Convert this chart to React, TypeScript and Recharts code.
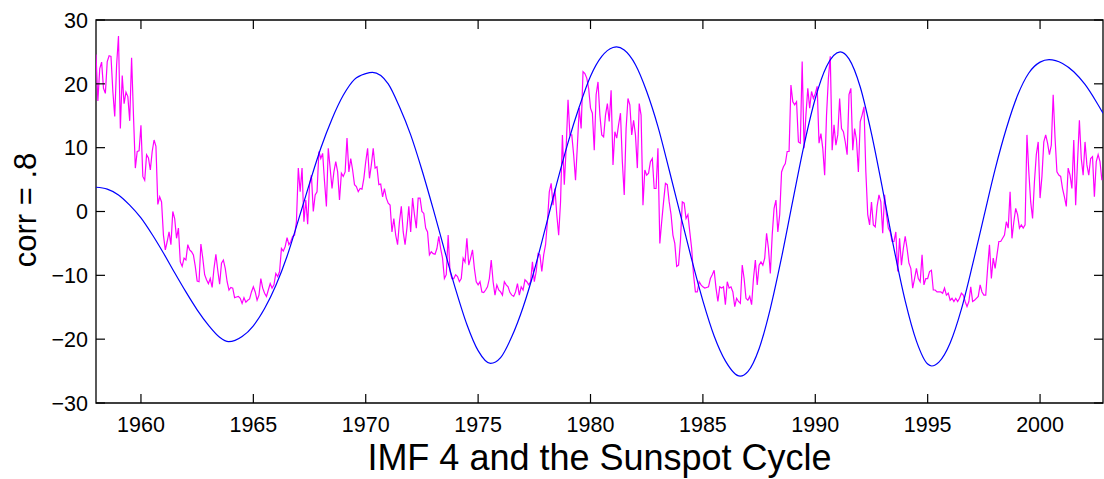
import React from "react";
import { LineChart, Line, XAxis, YAxis, ReferenceArea } from "recharts";

const START_YEAR = 1958;
const END_YEAR = 2002.8;

const yearTicks = [1960, 1965, 1970, 1975, 1980, 1985, 1990, 1995, 2000];
const corrTicks = [-30, -20, -10, 0, 10, 20, 30];

// IMF 4 (blue)
const imfYears = [
  1958.0, 1958.5, 1959.0, 1959.5, 1960.0, 1960.5, 1961.0, 1961.5, 1962.0, 1962.5,
  1963.0, 1963.5, 1963.9, 1964.5, 1965.0, 1965.5, 1966.0, 1966.5, 1967.0, 1967.5,
  1968.0, 1968.5, 1969.0, 1969.5, 1970.0, 1970.3, 1971.0, 1971.5, 1972.0, 1972.5,
  1973.0, 1973.5, 1974.0, 1974.5, 1975.0, 1975.55, 1976.0, 1976.5, 1977.0, 1977.5,
  1978.0, 1978.5, 1979.0, 1979.5, 1980.0, 1980.5, 1981.0, 1981.16, 1981.5, 1982.0,
  1982.5, 1983.0, 1983.5, 1984.0, 1984.5, 1985.0, 1985.5, 1986.0, 1986.66, 1987.0,
  1987.5, 1988.0, 1988.5, 1989.0, 1989.5, 1990.0, 1990.5, 1991.11, 1991.5, 1992.0,
  1992.5, 1993.0, 1993.5, 1994.0, 1994.5, 1995.0, 1995.18, 1995.5, 1996.0, 1996.5,
  1997.0, 1997.5, 1998.0, 1998.5, 1999.0, 1999.5, 2000.0, 2000.4, 2001.0, 2001.5,
  2002.0, 2002.5, 2002.8,
];
const imfValues = [
  3.8, 3.5, 2.6, 1.0, -1.0, -3.6, -6.5, -9.6, -12.6, -15.4,
  -17.8, -19.7, -20.4, -19.6, -17.9, -15.2, -11.6, -7.0, -1.4, 4.4,
  9.9, 14.5, 18.2, 20.7, 21.6, 21.8, 20.0, 16.4, 12.0, 6.5,
  0.4, -6.0, -12.2, -17.7, -21.8, -23.8, -22.9, -19.6, -15.0, -9.2,
  -2.5, 4.4, 10.8, 16.4, 21.2, 24.3, 25.7, 25.8, 25.3, 23.0,
  18.8, 13.3, 6.5, -0.5, -7.5, -14.0, -19.5, -23.4, -25.8, -25.1,
  -21.5, -15.2, -7.2, 1.7, 10.4, 17.7, 22.7, 25.0, 23.9, 19.5,
  12.2, 3.4, -5.8, -14.0, -20.3, -23.9, -24.2, -23.6, -20.6, -15.3,
  -8.3, -0.8, 6.6, 13.0, 18.2, 21.7, 23.4, 23.8, 23.2, 21.9,
  19.9, 17.2, 15.4,
];

// sunspot curve (magenta), one value per month from Jan 1958
const sunspotValues = [
  24.6, 17.3, 22.4, 23.4, 19.3, 18.5, 23.5, 24.4, 24.3, 18.8,
  14.9, 22.9, 27.5, 13.0, 21.3, 16.9, 18.7, 18.0, 14.2, 24.1,
  15.1, 6.8, 9.4, 9.5, 13.5, 5.5, 4.9, 8.9, 8.4, 6.5,
  9.4, 11.2, 10.2, 1.1, 2.3, 1.5, -3.7, -6.0, -4.7, -3.2,
  -5.2, 0.0, -1.1, -4.2, -2.6, -7.9, -8.6, -7.3, -7.6, -5.2,
  -6.0, -6.3, -6.8, -8.6, -10.9, -11.0, -5.1, -7.3, -9.9, -10.7,
  -11.3, -10.5, -11.9, -8.9, -6.7, -9.2, -11.4, -8.1, -7.6, -8.9,
  -11.0, -12.3, -11.9, -12.0, -13.5, -13.4,
  -13.3, -13.6, -14.4, -13.5, -14.2, -13.9, -13.7, -12.6, -11.8, -12.6,
  -13.9, -13.1, -10.5, -12.0, -12.8, -13.3, -12.3, -11.3, -12.0, -11.5,
  -9.7, -10.2, -9.4, -5.8, -6.2, -5.5, -4.1, -5.2, -4.7, -3.9,
  -3.7, -1.6, 6.8, 3.1, 6.8, -1.6, 1.8, -2.0, 4.2, 5.7,
  0.0, 2.6, 3.1, 9.4, 8.3, 9.1, 4.7, 0.8, 9.9, 6.8,
  3.6, 6.2, 7.8, 6.2, 1.8, 6.0, 5.5, 6.2, 11.5, 6.2,
  8.3, 6.5, 4.2, 3.9, 3.1, 3.6, 3.5, 5.2, 7.8, 9.9,
  5.2, 7.3, 9.9, 6.8, 7.0, 4.2, 4.3, 2.3,
  3.6, 2.1, 1.3, 1.0, -3.2, -1.1, -3.7, -5.2, -1.6, 0.8,
  -3.2, -5.2, -2.6, 0.8, -3.2, 2.1, -0.5, -2.6, 2.1, 2.1,
  0.0, -0.3, -2.6, -3.2, -6.8, -6.3, -6.6, -6.7, -5.8, -3.9,
  -5.8, -7.3, -10.5, -9.9, -3.7, -9.4, -10.5, -10.5, -9.9, -10.2,
  -11.0, -10.5, -7.3, -7.9, -4.2, -8.4, -7.3, -6.0, -8.9, -11.0,
  -11.5, -11.0, -12.6, -12.7, -12.3, -11.8, -10.5, -7.6, -11.0, -13.1,
  -11.5, -12.3, -12.6, -13.1, -11.0, -11.5, -11.8, -12.7, -13.1, -13.3,
  -12.6, -11.3, -13.1, -11.8, -12.3, -10.7, -11.0, -11.5,
  -11.0, -7.9, -11.0, -9.4, -6.6, -6.8, -9.4, -6.8, -5.2, -1.6,
  3.1, 4.4, 1.0, 3.6, -0.5, -3.7, 1.5, 12.0, 4.2, 9.9,
  17.5, 12.0, 12.0, 8.9, 4.9, 10.4, 16.2, 13.0, 21.9, 21.6,
  20.9, 19.3, 16.2, 15.4, 9.6, 18.3, 20.3, 15.1, 12.0, 11.7,
  15.1, 16.9, 14.1, 19.0, 7.3, 12.5, 11.5, 13.6, 15.4, 7.8,
  2.6, 13.0, 17.7, 16.7, 12.0, 14.3, 12.0, 6.8, 16.9, 15.1,
  1.0, 6.5, 5.7, 6.0, 7.8, 8.3, 3.6, 3.6, 9.9, -5.0,
  -1.6, 1.5, 4.4, 4.2, 1.5, -0.5, -3.7,
  -5.0, -8.6, -8.4, -4.7, 1.5, 1.3, -1.1, -0.5, -3.2, -5.8,
  -9.9, -12.6, -12.6, -11.0, -11.5, -11.8, -12.0, -11.9, -11.8, -10.5,
  -9.9, -9.2, -12.0, -14.1, -11.8, -12.0, -11.8, -14.6, -11.0, -12.0,
  -11.8, -12.6, -14.9, -13.6, -14.1, -14.4, -8.4, -10.5, -13.6, -13.9,
  -13.3, -14.6, -10.5, -7.6, -11.5, -8.4, -7.9, -8.4, -7.3, -3.4,
  -5.8, -9.7, -3.7, 0.5, 1.8, -3.2, -0.5, 6.2, 7.0, 7.5,
  9.4, 9.4, 19.8, 17.2, 16.7, 17.2, 10.9, 10.7, 23.5, 9.9,
  15.1, 19.3, 16.2, 18.8, 17.7, 18.5, 19.6,
  10.7, 12.2, 9.9, 5.7, 15.1, 20.9, 24.3, 9.6, 13.6, 10.4,
  12.0, 17.7, 13.0, 12.5, 10.9, 8.9, 18.3, 19.3, 9.6, 13.0,
  11.2, 6.2, 14.1, 15.1, 16.4, 6.2, -0.5, -2.1, 1.5, -2.1,
  -2.4, 0.8, 2.6, 1.5, -3.4, 2.6, -0.5, -2.6, -3.2, -4.7,
  -4.7, -3.2, -9.4, -4.2, -8.4, -5.8, -3.9, -5.8, -8.1, -8.9,
  -12.0, -10.5, -8.9, -10.5, -11.0, -6.8, -11.5, -10.5, -10.5, -9.4,
  -9.2, -12.3, -12.3, -12.6, -12.6, -12.6, -12.8, -12.0, -13.1, -12.8,
  -13.9, -13.6, -14.1, -13.6, -14.1, -13.6, -12.8,
  -13.1, -14.1, -14.9, -14.1, -11.8, -14.1, -13.9, -13.6, -13.3, -11.5,
  -12.6, -13.1, -13.1, -8.9, -5.2, -10.5, -7.3, -8.9, -6.8, -4.7,
  -4.7, -4.2, -3.7, -1.6, -2.6, 3.1, -4.2, -1.6, 0.5, -0.5,
  -2.6, -2.1, -2.6, -2.1, 12.0, 6.2, 1.5, -1.1, 4.7, 8.9,
  10.9, 2.1, 5.5, 10.9, 12.0, 10.7, 8.9, 10.4, 18.3, 11.5,
  6.2, 5.7, 5.5, 3.6, 2.3, 0.8, 6.8, 5.7, 3.6, 11.2,
  1.0, 7.8, 14.3, 8.3, 5.7, 10.9, 7.3, 5.7, 8.3, 8.6,
  2.3, 7.8, 8.9, 7.8, 4.9,
];

const imfData = imfYears.map((x, i) => ({ x, y: imfValues[i] }));
const sunspotData = sunspotValues.map((y, i) => ({ x: START_YEAR + i / 12, y }));

const W = 1104;
const H = 479;
const LEFT = 96;
const RIGHT = 1103;
const TOP = 20;
const BOTTOM = 403;
const FONT = "'Liberation Sans', Arial, Helvetica, sans-serif";
const TICK_LEN = 9;

const XTick = (props: any) => {
  const { x, payload } = props;
  return (
    <g>
      <line x1={x} x2={x} y1={BOTTOM} y2={BOTTOM - TICK_LEN} stroke="#000" strokeWidth={1.2} />
      <line x1={x} x2={x} y1={TOP} y2={TOP + TICK_LEN} stroke="#000" strokeWidth={1.2} />
      <text x={x} y={432} textAnchor="middle" fontSize={21.5} fontFamily={FONT} fill="#000">
        {payload.value}
      </text>
    </g>
  );
};

const YTick = (props: any) => {
  const { y, payload } = props;
  const label = String(payload.value).replace("-", "\u2212");
  return (
    <g>
      <line x1={LEFT} x2={LEFT + TICK_LEN} y1={y} y2={y} stroke="#000" strokeWidth={1.2} />
      <line x1={RIGHT} x2={RIGHT - TICK_LEN} y1={y} y2={y} stroke="#000" strokeWidth={1.2} />
      <text x={88} y={y + 7.7} textAnchor="end" fontSize={21.5} fontFamily={FONT} fill="#000">
        {label}
      </text>
    </g>
  );
};

export default function App() {
  return (
    <div style={{ position: "absolute", left: 0, top: 0, width: W, height: H, background: "#fff" }}>
      <LineChart width={W} height={H} margin={{ top: TOP, right: W - RIGHT, bottom: 0, left: 0 }}>
        <XAxis
          type="number"
          dataKey="x"
          domain={[START_YEAR, END_YEAR]}
          allowDataOverflow
          ticks={yearTicks}
          interval={0}
          tick={(p: any) => <XTick {...p} />}
          tickLine={false}
          axisLine={false}
          height={H - BOTTOM}
        />
        <YAxis
          type="number"
          dataKey="y"
          domain={[-30, 30]}
          allowDataOverflow
          ticks={corrTicks}
          interval={0}
          tick={(p: any) => <YTick {...p} />}
          tickLine={false}
          axisLine={false}
          width={LEFT}
        />
        <Line
          data={sunspotData}
          dataKey="y"
          type="linear"
          stroke="#ff00ff"
          strokeWidth={1.2}
          dot={false}
          activeDot={false}
          isAnimationActive={false}
        />
        <Line
          data={imfData}
          dataKey="y"
          type="monotone"
          stroke="#0000ff"
          strokeWidth={1.2}
          dot={false}
          activeDot={false}
          isAnimationActive={false}
        />
        <ReferenceArea
          x1={START_YEAR}
          x2={END_YEAR}
          y1={-30}
          y2={30}
          fill="none"
          stroke="#000"
          strokeWidth={1.3}
        />
      </LineChart>
      <svg
        width={W}
        height={H}
        style={{ position: "absolute", left: 0, top: 0, pointerEvents: "none" }}
      >
        <text
          x={(LEFT + RIGHT) / 2}
          y={470}
          textAnchor="middle"
          fontSize={36}
          fontFamily={FONT}
          fill="#000"
        >
          IMF 4 and the Sunspot Cycle
        </text>
        <text
          transform="translate(36,210) rotate(-90)"
          textAnchor="middle"
          fontSize={31}
          fontFamily={FONT}
          fill="#000"
        >
          corr = .8
        </text>
      </svg>
    </div>
  );
}
